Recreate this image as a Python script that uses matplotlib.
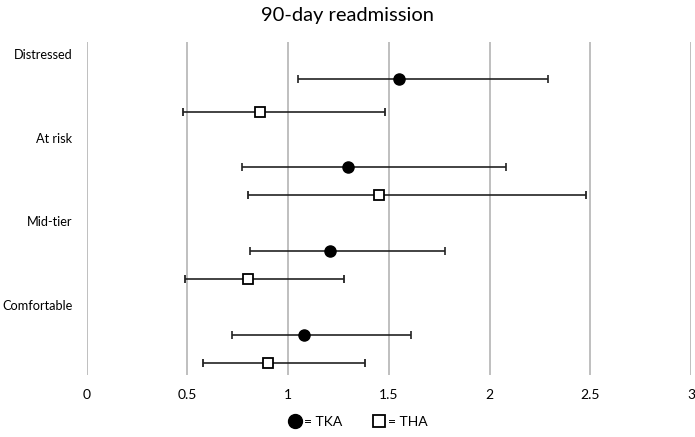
import matplotlib
matplotlib.use("Agg")
import matplotlib.pyplot as plt
from matplotlib.lines import Line2D

categories = ["Distressed", "At risk", "Mid-tier", "Comfortable"]
tka_or = [1.55, 1.30, 1.21, 1.08]
tka_lo = [1.05, 0.77, 0.81, 0.72]
tka_hi = [2.29, 2.08, 1.78, 1.61]
tha_or = [0.86, 1.45, 0.80, 0.90]
tha_lo = [0.48, 0.80, 0.49, 0.58]
tha_hi = [1.48, 2.48, 1.28, 1.38]
xticks = [0, 0.5, 1, 1.5, 2, 2.5, 3]
xticklabels = ["0", "0.5", "1", "1.5", "2", "2.5", "3"]

# layout (vertical positions in axis units, top=41.7, bottom=375)
label_y = [55, 139, 222, 306]
tka_y = [78.7, 167, 251, 334.7]
tha_y = [112, 195, 279, 362.7]

plt.rcParams['font.family'] = ['Lato', 'DejaVu Sans']

fig = plt.figure(figsize=(6.95, 4.37), dpi=100)
ax = fig.add_axes([86.5 / 695, 1 - 375 / 437, (691 - 86.5) / 695, (375 - 41.7) / 437])
ax.set_xlim(0, 3)
ax.set_ylim(375, 41.7)
for s in ax.spines.values():
    s.set_visible(False)
ax.set_yticks([])
ax.set_xticks(xticks)
ax.set_xticklabels(xticklabels, fontsize=10)
ax.tick_params(axis='x', length=0, pad=10)
for xv in xticks:
    ax.axvline(xv, color='#bfbfbf', lw=1.4, zorder=0)

tka_err = [[o - l for o, l in zip(tka_or, tka_lo)], [h - o for o, h in zip(tka_or, tka_hi)]]
tha_err = [[o - l for o, l in zip(tha_or, tha_lo)], [h - o for o, h in zip(tha_or, tha_hi)]]

ax.errorbar(tka_or, tka_y, xerr=tka_err, fmt='o', color='black', ms=8,
            ecolor='#222222', elinewidth=1.2, capsize=3, capthick=1.2, zorder=3)
ax.errorbar(tha_or, tha_y, xerr=tha_err, fmt='s', mfc='white', mec='black', mew=1.3, ms=7.5,
            ecolor='#222222', elinewidth=1.2, capsize=3, capthick=1.2, zorder=3)

for cat, yv in zip(categories, label_y):
    ax.text(-0.07, yv, cat, ha='right', va='center', fontsize=9.2, transform=ax.transData)

fig.text(0.5, 1 - 16 / 437, "90-day readmission", ha='center', va='center', fontsize=14.5)

handles = [Line2D([], [], marker='o', color='black', ls='none', ms=10),
           Line2D([], [], marker='s', mfc='white', mec='black', mew=1.3, ls='none', ms=9)]
fig.legend(handles, ["= TKA", "= THA"], loc='center', bbox_to_anchor=(0.514, 1 - 422 / 437),
           ncol=2, frameon=False, fontsize=10, handletextpad=0.1, columnspacing=2.0,
           handlelength=1.2)

fig.savefig("out.png", dpi=100)
